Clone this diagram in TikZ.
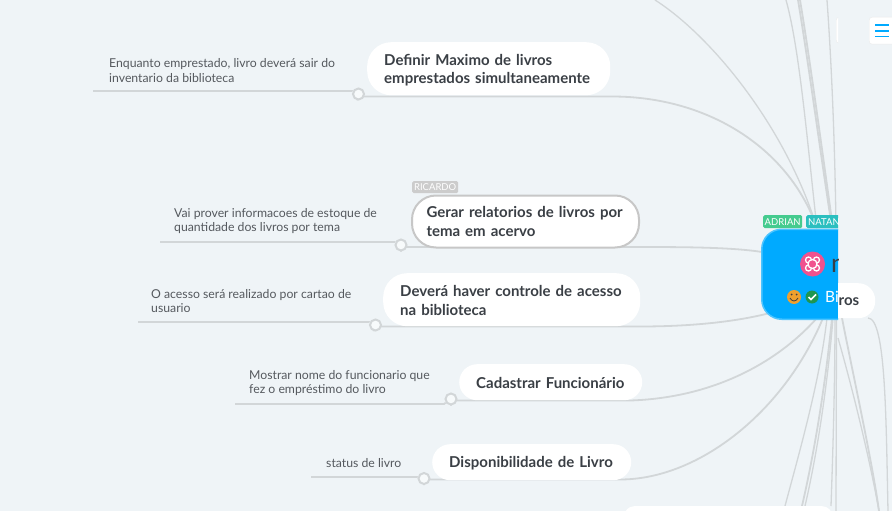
\documentclass[tikz,border=0pt]{standalone}
\usepackage{fontspec}
\setmainfont{Lato}
\definecolor{bgc}{HTML}{EFF4F7}
\definecolor{linec}{HTML}{D2D6D8}
\definecolor{inkc}{HTML}{3A3F45}
\definecolor{notec}{HTML}{55595E}
\definecolor{rootc}{HTML}{00AAFF}
\definecolor{rootb}{HTML}{4CC4FF}
\definecolor{tagg}{RGB}{69,203,143}
\definecolor{tagt}{RGB}{43,191,191}
\definecolor{logop}{RGB}{240,82,143}
\definecolor{smilec}{RGB}{240,160,45}
\definecolor{checkc}{RGB}{30,150,80}
\pgfdeclarelayer{back}
\pgfdeclarelayer{links}
\pgfsetlayers{back,links,main}
\newcommand{\lowered}[2]{\raisebox{-#1pt}[\height][\depth]{\mbox{#2}}}
\tikzset{
  topic/.style={fill=white,inner ysep=0pt,inner xsep=17pt,align=left,text=inkc,font=\fontsize{15}{18.5}\selectfont\bfseries,anchor=north west},
  note/.style={text=notec,font=\fontsize{12.25}{14.7}\selectfont,align=left,inner sep=0pt,anchor=west},
  dot/.style={circle,draw=linec,fill=bgc!50!white,line width=2pt,minimum size=11pt,inner sep=0pt},
  conn/.style={draw=linec,line width=1.8pt},
  thinconn/.style={draw=linec,line width=1.3pt},
  tagb/.style={rounded corners=1.5pt,inner sep=0pt,text=white,font=\fontsize{9.5}{10}\selectfont,minimum height=13pt,anchor=north west}
}
\begin{document}
\begin{tikzpicture}[x=1pt,y=-1pt]
\useasboundingbox (0,0) rectangle (892,511);
\begin{pgfonlayer}{back}
\fill[bgc] (0,0) rectangle (892,511);
\end{pgfonlayer}
\coordinate (rootT) at (817,228);
\coordinate (rootL) at (762,252);
\coordinate (rootR) at (770,313);
\coordinate (rootBa) at (817,318);
\coordinate (rootBb) at (823,318);
% topics
\node[topic,minimum height=53pt,text width=209pt,rounded corners=24pt] (t-a) at (367,42) {\lowered{1.5}{Definir Maximo de livros}\\\lowered{1.5}{emprestados simultaneamente}};
\node[topic,minimum height=52pt,text width=198pt,inner xsep=14.5pt,rounded corners=24pt,draw=black!22,line width=2pt] (t-b) at (411,194.5) {\mbox{Gerar relatorios de livros por}\\\mbox{tema em acervo}};
\node[topic,minimum height=53pt,text width=223pt,rounded corners=24pt] (t-c) at (383,273) {\lowered{1}{Deverá haver controle de acesso}\\\lowered{1}{na biblioteca}};
\node[topic,minimum height=36pt,text width=149pt,rounded corners=18pt] (t-d) at (459,364) {\lowered{1}{Cadastrar Funcionário}};
\node[topic,minimum height=36pt,text width=165pt,rounded corners=18pt] (t-e) at (432,444) {\lowered{1}{Disponibilidade de Livro}};
\node[topic,minimum height=20pt,text width=174pt,rounded corners=10pt] (t-f) at (624,506) {};
% notes
\node[note] (m-a) at (109,70.5) {Enquanto emprestado, livro deverá sair do\\inventario da biblioteca};
\node[note] (m-b) at (174,221) {Vai prover informacoes de estoque de\\quantidade dos livros por tema};
\node[note] (m-c) at (151,301) {O acesso será realizado por cartao de\\usuario};
\node[note] (m-d) at (249,383) {Mostrar nome do funcionario que\\fez o empréstimo do livro};
\node[note] (m-e) at (326,463.5) {status de livro};
% dots
\node[dot] (d-a) at (358.5,94) {};
\node[dot] (d-b) at (401,245) {};
\node[dot] (d-c) at (375.5,325) {};
\node[dot] (d-d) at (451,399) {};
\node[dot] (d-e) at (424,478.5) {};
\coordinate (n-a) at (93,91);\coordinate (n-b) at (160,242);\coordinate (n-c) at (138,322);\coordinate (n-d) at (235,404);\coordinate (n-e) at (311,477);
\coordinate (t1) at (786,0);\coordinate (t2) at (798,0);\coordinate (t3) at (800,0);\coordinate (t4) at (827,0);
\coordinate (b1) at (785,506);\coordinate (b2) at (802,506);\coordinate (b3) at (805,506);\coordinate (b4) at (831,506);\coordinate (b0) at (836,511);
\coordinate (b5) at (879,511);\coordinate (b6) at (888,511);\coordinate (ua) at (655,0);
\coordinate (rootU) at (832,228);\coordinate (rootV) at (836,228);
\begin{pgfonlayer}{links}
\draw[thinconn] (t1) .. controls (800,50) and (808,150) .. (rootT);
\draw[conn] (t2) .. controls (808,60) and (820,150) .. (rootU);
\draw[conn] (t3) .. controls (810,60) and (822,150) .. (833,228);
\draw[thinconn] (t4) .. controls (832,70) and (835,150) .. (rootV);
\draw[thinconn] (ua) .. controls (710,35) and (785,125) .. (rootT);
\draw[thinconn] (b1) .. controls (800,450) and (820,380) .. (827,318);
\draw[conn] (b2) .. controls (815,450) and (826,380) .. (832,318);
\draw[thinconn] (b3) .. controls (818,450) and (828,380) .. (833,318);
\draw[thinconn] (b4) .. controls (833,450) and (835,380) .. (835,318);
\draw[thinconn] (b0) -- (836.5,318);
\draw[conn] (b5) .. controls (872,460) and (850,360) .. (842,318);
\draw[thinconn] (b5) .. controls (868,450) and (850,380) .. (838,338);
\draw[thinconn] (b6) .. controls (886,420) and (886,318) .. (868,318);
\draw[conn] (n-a) -- (352,91) -- (d-a);
\draw[conn] (n-b) -- (395,242) -- (d-b);
\draw[conn] (n-c) -- (369,322) -- (d-c);
\draw[conn] (n-d) -- (444,404) -- (d-d);
\draw[conn] (n-e) -- (417,477) -- (d-e);
\draw[conn] (d-a) -- (358,96.5) -- (612,96.5) .. controls (710,96.5) and (790,150) .. (rootT);
\draw[conn] (d-b) -- (401,247) -- (630,247) .. controls (680,247) and (730,247) .. (rootL);
\draw[conn] (d-c) -- (375,326.5) -- (640,326.5) .. controls (690,326.5) and (735,322) .. (rootR);
\draw[conn] (d-d) -- (451,400.5) -- (630,400.5) .. controls (710,398) and (775,365) .. (rootBa);
\draw[conn] (d-e) -- (424,479.5) -- (620,479.5) .. controls (700,479.5) and (785,410) .. (rootBb);
\end{pgfonlayer}
% central topic, cut off at x=838
\begin{scope}
\clip (740,200) rectangle (838,330);
\node[anchor=north west,minimum width=110pt,minimum height=90pt,inner sep=0pt,fill=rootc,draw=rootb,line width=1.5pt,rounded corners=20pt] (root) at (761,228.5) {};
\node[anchor=base west,inner sep=0pt,text=inkc,font=\fontsize{26}{26}\selectfont] (rootn) at (831,272) {n};
\node[anchor=base west,inner sep=0pt,text=white,font=\fontsize{15.5}{16}\selectfont] (rootbi) at (825,302.5) {Bi};
\end{scope}
\node[tagb,fill=tagg,minimum width=39pt] (tag-a) at (763,215) {ADRIAN};
\begin{scope}
\clip (800,210) rectangle (838,230);
\node[tagb,fill=tagt,minimum width=42pt,text width=40pt,align=left,inner xsep=2pt] (tag-n) at (806,215) {NATAN};
\end{scope}
\node[tagb,fill=black!20,minimum width=46pt,minimum height=12pt] (tag-r) at (412,181) {RICARDO};
% pink logo
\node[circle,fill=logop,minimum size=25pt,inner sep=0pt] (logo) at (812.5,264) {};
\draw[white,line width=1.3pt] (808.5,260) circle (3pt) (816.5,260) circle (3pt) (808.5,268) circle (3pt) (816.5,268) circle (3pt);
\node[circle,draw=white,fill=logop,line width=1.3pt,minimum size=9pt,inner sep=0pt] (logoin) at (logo) {};
% emoji
\node[circle,fill=smilec,minimum size=14pt,inner sep=0pt] (smile) at (794,297) {};
\fill[black!75] (791.5,294.5) circle (1pt) (796.5,294.5) circle (1pt);
\draw[black!75,line width=.8pt] (790,298) .. controls (792,302) and (796,302) .. (798,298);
\node[circle,fill=checkc,minimum size=13pt,inner sep=0pt] (check) at (812,297) {};
\draw[white,line width=1.6pt] (808.5,297) -- (811,299.5) -- (816,294.5);
% Biros node right part
\begin{scope}
\clip (838,280) rectangle (880,320);
\node[fill=white,anchor=north west,minimum width=67pt,minimum height=35pt,inner sep=0pt,rounded corners=17pt] (bir0) at (808,283) {};
\end{scope}
\node[anchor=base west,inner sep=0pt,text=inkc,font=\fontsize{15}{15}\selectfont\bfseries] (biros) at (838.5,305) {ros};
% top right controls
\begin{scope}
\clip (830,10) rectangle (838,50);
\node[fill=white,anchor=north west,minimum width=30pt,minimum height=26pt,inner sep=0pt,rounded corners=3pt,draw=black!8] (box-a) at (836,17) {};
\end{scope}
\begin{scope}
\clip (860,10) rectangle (892,50);
\node[fill=white,anchor=north west,minimum width=40pt,minimum height=27pt,inner sep=0pt,rounded corners=3pt,draw=black!8] (box-b) at (869,17) {};
\end{scope}
\draw[rootc,line width=1.5pt] (875,25) -- (889,25) (875,31) -- (889,31) (875,36.5) -- (889,36.5);
\end{tikzpicture}
\end{document}
